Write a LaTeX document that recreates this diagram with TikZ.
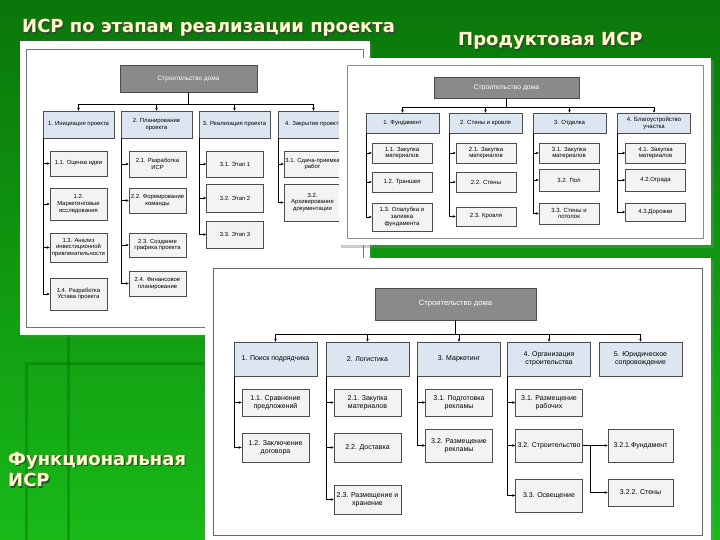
\documentclass[tikz,border=0pt]{standalone}
\usepackage{fontspec}
\setmainfont{Liberation Sans}
\newfontfamily\titlefont{DejaVu Sans}
\usetikzlibrary{arrows.meta,positioning}

\definecolor{bgtop}{RGB}{10,118,10}
\definecolor{bgbot}{RGB}{24,186,24}
\definecolor{lvlblue}{RGB}{220,230,241}
\definecolor{leafgray}{RGB}{243,243,243}
\definecolor{rootgray}{RGB}{138,138,138}
\definecolor{titleyel}{RGB}{255,255,200}

\newcommand\fsA{\fontsize{5.9}{6.8}\selectfont}
\newcommand\fsB{\fontsize{6.0}{6.8}\selectfont}
\newcommand\fsC{\fontsize{7.0}{8.2}\selectfont}

\tikzset{
  wbs/.style={draw=black!70, line width=0.5pt, align=center, inner sep=1pt},
  rootbox/.style={wbs, fill=rootgray, text=white},
  lvlbox/.style={wbs, fill=lvlblue},
  leafbox/.style={wbs, fill=leafgray},
  link/.style={->, line width=0.5pt},
  slidetitle/.style={text=titleyel, anchor=base west, inner sep=0pt,
    font=\titlefont\bfseries\fontsize{18}{21.5}\selectfont},
  titleshadow/.style={slidetitle, text=black!75},
}

\begin{document}
\begin{tikzpicture}[x=1pt,y=-1pt,>={Stealth[length=3pt,width=2.6pt]}]
\useasboundingbox (0,0) rectangle (720,540);

% Fond
\shade[top color=bgtop, bottom color=bgbot] (0,0) rectangle (720,540);
\draw[green!40!black, opacity=0.35, line width=3pt] (68,330) -- (68,540);
\draw[green!40!black, opacity=0.35, line width=3pt] (26,540) -- (26,363) -- (205,363);

% Titres
\node[titleshadow] (tAs) at (23.2,34.2) {ИСР по этапам реализации проекта};
\node[slidetitle] (tA) at (22,33) {ИСР по этапам реализации проекта};
\node[titleshadow] (tBs) at (459.2,47.2) {Продуктовая ИСР};
\node[slidetitle] (tB) at (458,46) {Продуктовая ИСР};
\node[titleshadow, align=left, anchor=north west] (tCs) at (9.2,453.2) {Функциональная\\ИСР};
\node[slidetitle, align=left, anchor=north west] (tC) at (8,452) {Функциональная\\ИСР};

% ===== Panneau 1 : par phases =====
\fill[black!50, opacity=0.3] (22,43) rectangle (372,337);
\fill[white] (20,41) rectangle (370,335);
\draw[black!55, line width=0.6pt] (26,49) rectangle (363,327);

\begin{scope}[every node/.append style={font=\fsA}]
\node[rootbox, minimum width=137, minimum height=27, font=\fontsize{6.4}{7}\selectfont] (rootA) at (188.5,78.5) {Строительство дома};
\coordinate (busA) at (188.5,104);

\node[lvlbox, minimum width=71, minimum height=27] (a1) at (78.5,124.5) {1. Инициация проекта};
\node[lvlbox, minimum width=71, minimum height=27] (a2) at (156.5,124.5) {2. Планирование\\проекта};
\node[lvlbox, minimum width=71, minimum height=27] (a3) at (234.5,124.5) {3. Реализация проекта};
\node[lvlbox, minimum width=71, minimum height=27] (a4) at (313.5,124.5) {4. Закрытие проекта};

\node[leafbox, minimum width=57, minimum height=25] (a11) at (78.5,163.5) {1.1. Оценка идеи};
\node[leafbox, minimum width=57, minimum height=32] (a12) at (78.5,204) {1.2.\\Маркетинговые\\исследования};
\node[leafbox, minimum width=57, minimum height=29] (a13) at (78.5,247.5) {1.3. Анализ\\инвестиционной\\привлекательности};
\node[leafbox, minimum width=57, minimum height=32] (a14) at (78.5,294) {1.4. Разработка\\Устава проекта};

\node[leafbox, minimum width=57, minimum height=26] (a21) at (157.5,164) {2.1. Разработка\\ИСР};
\node[leafbox, minimum width=57, minimum height=25] (a22) at (157.5,200.5) {2.2. Формирование\\команды};
\node[leafbox, minimum width=57, minimum height=24] (a23) at (157.5,245) {2.3. Создание\\графика проекта};
\node[leafbox, minimum width=57, minimum height=25] (a24) at (157.5,283.5) {2.4. Финансовое\\планирование};

\node[leafbox, minimum width=57, minimum height=26] (a31) at (235,164) {3.1. Этап 1};
\node[leafbox, minimum width=57, minimum height=28] (a32) at (235,198) {3.2. Этап 2};
\node[leafbox, minimum width=57, minimum height=27] (a33) at (235,234.5) {3.3. Этап 3};

\node[leafbox, minimum width=57, minimum height=26] (a41) at (312.5,164) {3.1. Сдача-приемка\\работ};
\node[leafbox, minimum width=57, minimum height=37] (a42) at (312.5,202.5) {3.2.\\Архивирование\\документации};
\end{scope}

\draw[line width=0.5pt] (rootA) -- (busA);
\draw[link] (busA) -| (a1.north);
\draw[link] (busA) -| (a2.north);
\draw[link] (busA) -| (a3.north);
\draw[link] (busA) -| (a4.north);
\draw[link] (a1.south west) |- (a11.west);
\draw[link] (a1.south west) |- (a12.west);
\draw[link] (a1.south west) |- (a13.west);
\draw[link] (a1.south west) |- (a14.west);
\draw[link] (a2.south west) |- (a21.west);
\draw[link] (a2.south west) |- (a22.west);
\draw[link] (a2.south west) |- (a23.west);
\draw[link] (a2.south west) |- (a24.west);
\draw[link] (a3.south west) |- (a31.west);
\draw[link] (a3.south west) |- (a32.west);
\draw[link] (a3.south west) |- (a33.west);
\draw[link] (a4.south west) |- (a41.west);
\draw[link] (a4.south west) |- (a42.west);

% ===== Panneau 2 : par produits =====
\fill[black!50, opacity=0.4] (341,60) rectangle (714,248);
\fill[white] (339,58) rectangle (711,245);
\draw[black!45, line width=0.6pt] (347,65) rectangle (703,238);

\begin{scope}[every node/.append style={font=\fsB}]
\node[rootbox, minimum width=145, minimum height=21, font=\fontsize{6.8}{7.4}\selectfont] (rootB) at (506.5,87.5) {Строительство дома};
\coordinate (busB) at (506.5,107);

\node[lvlbox, minimum width=73, minimum height=20] (b1) at (402.5,123) {1. Фундамент};
\node[lvlbox, minimum width=73, minimum height=20] (b2) at (485.5,123) {2. Стены и кровля};
\node[lvlbox, minimum width=73, minimum height=20] (b3) at (569.5,123) {3. Отделка};
\node[lvlbox, minimum width=73, minimum height=20] (b4) at (654,123) {4. Благоустройство\\участка};

\node[leafbox, minimum width=60, minimum height=20] (b11) at (402,153) {1.1. Закупка\\материалов};
\node[leafbox, minimum width=60, minimum height=20] (b12) at (402,182) {1.2. Траншея};
\node[leafbox, minimum width=60, minimum height=28] (b13) at (402,217) {1.3. Опалубка и\\заливка\\фундамента};

\node[leafbox, minimum width=60, minimum height=20] (b21) at (486,153) {2.1. Закупка\\материалов};
\node[leafbox, minimum width=60, minimum height=20] (b22) at (486,182) {2.2. Стены};
\node[leafbox, minimum width=60, minimum height=19] (b23) at (486,216.5) {2.3. Кровля};

\node[leafbox, minimum width=60, minimum height=20] (b31) at (569,153) {3.1. Закупка\\материалов};
\node[leafbox, minimum width=60, minimum height=22] (b32) at (569,180) {3.2. Пол};
\node[leafbox, minimum width=60, minimum height=21] (b33) at (569,213.5) {3.3. Стены и\\потолок};

\node[leafbox, minimum width=60, minimum height=20] (b41) at (655.5,153) {4.1. Закупка\\материалов};
\node[leafbox, minimum width=60, minimum height=22] (b42) at (655.5,180) {4.2.Ограда};
\node[leafbox, minimum width=60, minimum height=18] (b43) at (655.5,212) {4.3.Дорожки};
\end{scope}

\draw[line width=0.5pt] (rootB) -- (busB);
\draw[link] (busB) -| (b1.north);
\draw[link] (busB) -| (b2.north);
\draw[link] (busB) -| (b3.north);
\draw[link] (busB) -| (b4.north);
\draw[link] (b1.south west) |- (b11.west);
\draw[link] (b1.south west) |- (b12.west);
\draw[link] (b1.south west) |- (b13.west);
\draw[link] (b2.south west) |- (b21.west);
\draw[link] (b2.south west) |- (b22.west);
\draw[link] (b2.south west) |- (b23.west);
\draw[link] (b3.south west) |- (b31.west);
\draw[link] (b3.south west) |- (b32.west);
\draw[link] (b3.south west) |- (b33.west);
\draw[link] (b4.south west) |- (b41.west);
\draw[link] (b4.south west) |- (b42.west);
\draw[link] (b4.south west) |- (b43.west);

% ===== Panneau 3 : par fonctions =====
\fill[black!50, opacity=0.4] (207,260) rectangle (714,542);
\fill[white] (205,258) rectangle (711,540);
\draw[black!60, line width=0.7pt] (213,268) rectangle (702,535);

\begin{scope}[every node/.append style={font=\fsC}]
\node[rootbox, minimum width=161, minimum height=32, font=\fontsize{7.6}{8.2}\selectfont] (rootC) at (455.5,304) {Строительство дома};
\coordinate (busC) at (455.5,334);

\node[lvlbox, minimum width=83, minimum height=34] (c1) at (275.5,359) {1. Поиск подрядчика};
\node[lvlbox, minimum width=83, minimum height=34] (c2) at (367.5,359) {2. Логистика};
\node[lvlbox, minimum width=83, minimum height=34] (c3) at (459,359) {3. Маркетинг};
\node[lvlbox, minimum width=83, minimum height=34] (c4) at (549,359) {4. Организация\\строительства};
\node[lvlbox, minimum width=83, minimum height=34] (c5) at (640.5,359) {5. Юридическое\\сопровождение};

\node[leafbox, minimum width=67, minimum height=27] (c11) at (275.5,402.5) {1.1. Сравнение\\предложений};
\node[leafbox, minimum width=67, minimum height=29] (c12) at (275.5,447.5) {1.2. Заключение\\договора};

\node[leafbox, minimum width=67, minimum height=27] (c21) at (367.5,402.5) {2.1. Закупка\\материалов};
\node[leafbox, minimum width=67, minimum height=29] (c22) at (367.5,447.5) {2.2. Доставка};
\node[leafbox, minimum width=67, minimum height=29] (c23) at (367.5,499.5) {2.3. Размещение и\\хранение};

\node[leafbox, minimum width=67, minimum height=27] (c31) at (459,402.5) {3.1. Подготовка\\рекламы};
\node[leafbox, minimum width=67, minimum height=33] (c32) at (459,445.5) {3.2. Размещение\\рекламы};

\node[leafbox, minimum width=67, minimum height=27] (c41) at (549,402.5) {3.1. Размещение\\рабочих};
\node[leafbox, minimum width=67, minimum height=33] (c42) at (549,445.5) {3.2. Строительство};
\node[leafbox, minimum width=67, minimum height=33] (c43) at (549,495.5) {3.3. Освещение};

\node[leafbox, minimum width=65, minimum height=33] (c421) at (640.5,445.5) {3.2.1.Фундамент};
\node[leafbox, minimum width=65, minimum height=27] (c422) at (640.5,492.5) {3.2.2. Стены};
\end{scope}

\draw[line width=0.7pt] (rootC) -- (busC);
\draw[link] (busC) -| (c1.north);
\draw[link] (busC) -| (c2.north);
\draw[link] (busC) -| (c3.north);
\draw[link] (busC) -| (c4.north);
\draw[link] (busC) -| (c5.north);
\draw[link] (c1.south west) |- (c11.west);
\draw[link] (c1.south west) |- (c12.west);
\draw[link] (c2.south west) |- (c21.west);
\draw[link] (c2.south west) |- (c22.west);
\draw[link] (c2.south west) |- (c23.west);
\draw[link] (c3.south west) |- (c31.west);
\draw[link] (c3.south west) |- (c32.west);
\draw[link] (c4.south west) |- (c41.west);
\draw[link] (c4.south west) |- (c42.west);
\draw[link] (c4.south west) |- (c43.west);
\draw[link] (c42.east) -- (c421.west);
\draw[link] (c42.east) -- ++(7,0) |- (c422.west);

\end{tikzpicture}
\end{document}
